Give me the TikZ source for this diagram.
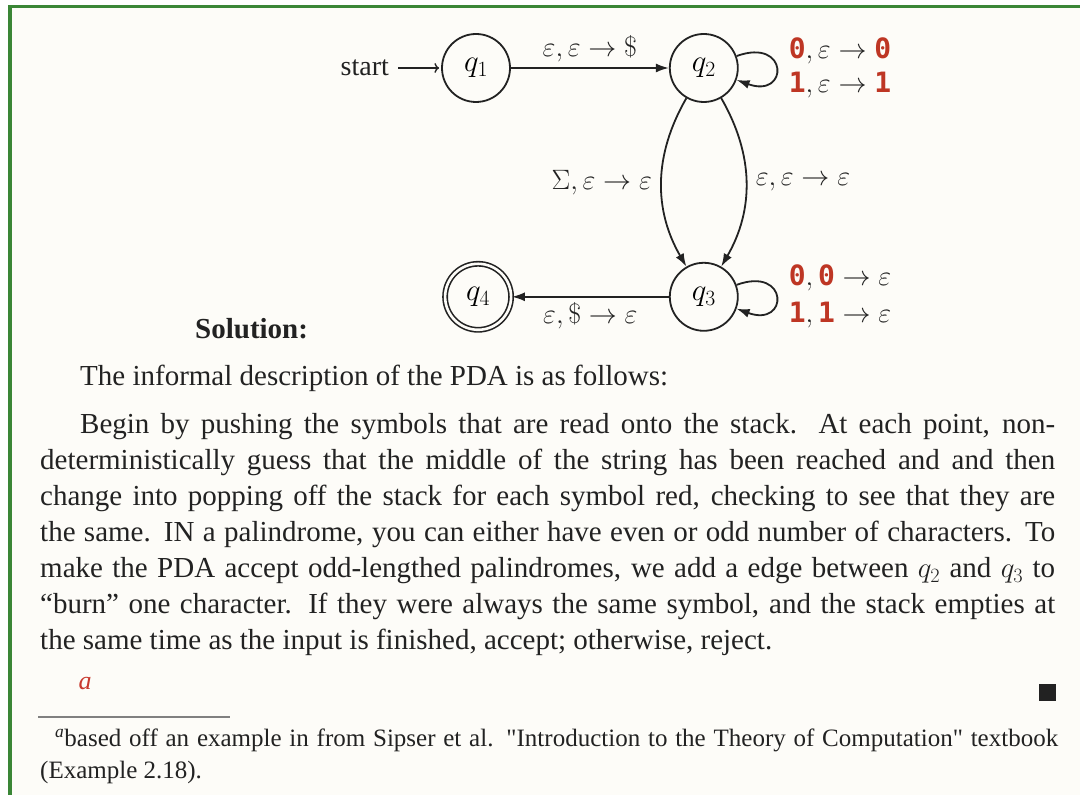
\RequirePackage{fix-cm}
\documentclass[tikz,border=0pt]{standalone}
\usepackage{amsmath}
\usepackage{fontspec}
\setmainfont{Liberation Serif}[Ligatures=TeXOff]
\setmonofont{DejaVu Sans Mono}
\usepackage{xcolor}
\definecolor{framegreen}{HTML}{3A8636}
\definecolor{pagebg}{HTML}{FDFCF8}
\definecolor{symred}{HTML}{BE3624}
\definecolor{linkred}{HTML}{C8392E}
\definecolor{inkgray}{HTML}{222222}
\usepackage{tikz}
\usetikzlibrary{arrows.meta, positioning}
\newcommand{\sym}[1]{\textcolor{symred}{\texttt{\bfseries #1}}}

\begin{document}
\begin{tikzpicture}[
      x=1pt, y=1pt,
      %% PDA states
      st/.style={circle, draw=inkgray, line width=1.8pt, minimum size=68pt,
                 inner sep=0pt, font=\fontsize{31}{36}\selectfont},
      acc/.style={st, line width=1.6pt, double=pagebg, double distance=2.6pt, minimum size=66pt},
      arr/.style={-{Latex[length=13pt, width=9pt]}, draw=inkgray, line width=1.8pt},
      lbl/.style={font=\fontsize{28}{34}\selectfont, inner sep=4pt, text=inkgray},
      %% page text
      txt/.style={font=\fontsize{29}{36}\selectfont, inner sep=0pt, text=inkgray},
      para/.style={txt, text width=1015pt, align=justify},
      fnote/.style={font=\fontsize{25}{32}\selectfont, inner sep=0pt, text=inkgray,
                    text width=1018pt, align=justify},
    ]
    \useasboundingbox (0,0) rectangle (1080,795);

    %% ── Frame and page ──────────────────────────────────────────────────────
    \fill[white] (0,0) rectangle (1080,795);
    \fill[pagebg] (10,0) rectangle (1080,789);
    \fill[framegreen] (7.7,0) rectangle (12,790);
    \fill[framegreen] (7.7,787.3) rectangle (1080,790);

    %% ── States ──────────────────────────────────────────────────────────────
    \node[st]  (q1) at (476,727) {$q_1$};
    \node[st,  right=158pt of q1] (q2) {$q_2$};
    \node[st,  below=159pt of q2] (q3) {$q_3$};
    \node[acc, left=157pt of q3]  (q4) {$q_4$};

    \node[lbl, inner sep=0pt, left=52pt of q1] (start) {start};

    %% ── Transitions ─────────────────────────────────────────────────────────
    \draw[->, draw=inkgray, line width=1.4pt, shorten <=9pt, shorten >=2pt] (start) -- (q1);

    \draw[arr] (q1) -- node[lbl, above=1pt]
      {$\varepsilon, \varepsilon \to \$$} (q2);

    %% push loop on q2
    \draw[arr] (q2) to[out=20, in=-20, looseness=6]
      node[lbl, right=8pt, align=left]
      {$\sym{0}, \varepsilon \to \sym{0}$\\ $\sym{1}, \varepsilon \to \sym{1}$} (q2);

    %% guess the middle: even or odd length
    \draw[arr] (q2) to[bend right=30]
      node[lbl, left=5pt] {$\Sigma, \varepsilon \to \varepsilon$} (q3);
    \draw[arr] (q2) to[bend left=30]
      node[lbl, right=5pt] {$\varepsilon, \varepsilon \to \varepsilon$} (q3);

    %% pop loop on q3
    \draw[arr] (q3) to[out=20, in=-20, looseness=6]
      node[lbl, right=8pt, align=left]
      {$\sym{0}, \sym{0} \to \varepsilon$\\[3pt] $\sym{1}, \sym{1} \to \varepsilon$} (q3);

    \draw[arr] (q3) -- node[lbl, below=1pt]
      {$\varepsilon, \$ \to \varepsilon$} (q4);

    %% ── Solution text ───────────────────────────────────────────────────────
    \node[txt, anchor=base west, font=\bfseries\fontsize{29}{36}\selectfont]
      (soln) at (195,456) {Solution:};

    \node[txt, anchor=base west] (intro) at (80,409)
      {The informal description of the PDA is as follows:};

    \node[para, anchor=base west] (body) at (40,361)
      {\noindent\hspace*{40pt}Begin by pushing the symbols that are read onto the stack. At each point, non-\linebreak
       deterministically guess that the middle of the string has been reached and and then\linebreak
       change into popping off the stack for each symbol red, checking to see that they are\linebreak
       the same. IN a palindrome, you can either have even or odd number of characters. To\linebreak
       make the PDA accept odd-lengthed palindromes, we add a edge between $q_2$ and $q_3$ to\linebreak
       “burn” one character. If they were always the same symbol, and the stack empties at\linebreak
       the same time as the input is finished, accept; otherwise, reject.};

    %% ── Footnote ────────────────────────────────────────────────────────────
    \node[txt, anchor=base, text=linkred, font=\itshape\fontsize{26}{26}\selectfont]
      (fnref) at (85,105) {a};
    \node[fill=inkgray, minimum size=17pt, inner sep=0pt] (qed) at (1047.5,102.5) {};

    \coordinate (rulel) at (38,78);
    \coordinate (ruler) at (230,78);
    \draw[gray, line width=1.3pt] (rulel) -- (ruler);

    \node[fnote, anchor=base west] (fn) at (40,48)
      {\noindent\hspace*{15pt}\textsuperscript{\itshape a}based off an example in from Sipser et al. "Introduction to the Theory of Computation" textbook\linebreak
       (Example 2.18).};
  \end{tikzpicture}
\end{document}
